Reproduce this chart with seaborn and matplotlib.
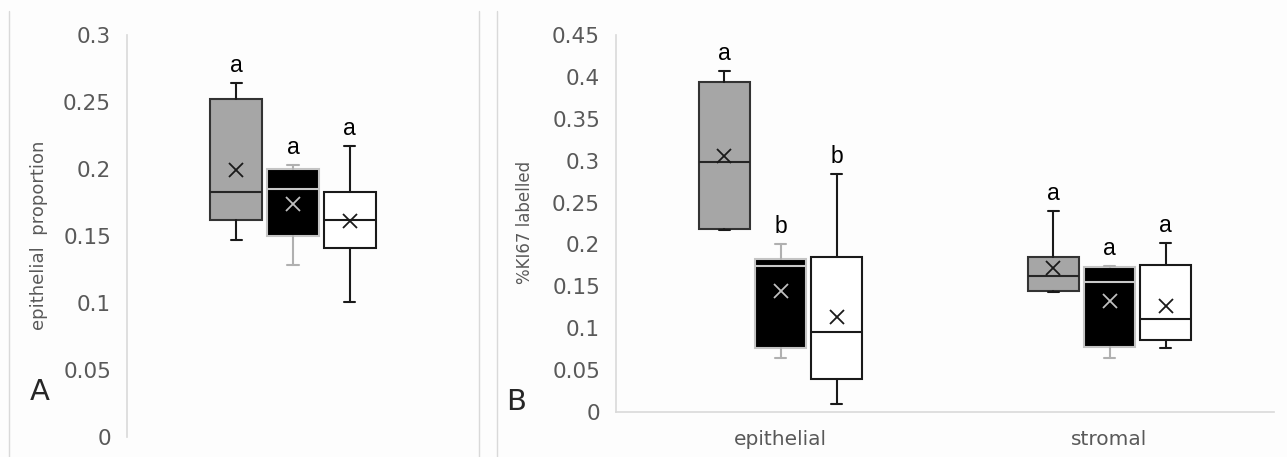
import numpy as np
import matplotlib
matplotlib.use("Agg")
import matplotlib.pyplot as plt
from matplotlib.lines import Line2D
from matplotlib.ticker import FuncFormatter
import seaborn as sns

# ---- data (five-number summaries + means) ----
groups = ["grey", "black", "white"]

# panel A: epithelial proportion, one category
a_whislo = [0.147, 0.128, 0.101]
a_q1 = [0.162, 0.150, 0.141]
a_med = [0.183, 0.185, 0.162]
a_q3 = [0.252, 0.200, 0.183]
a_whishi = [0.264, 0.203, 0.217]
a_mean = [0.199, 0.174, 0.161]
a_letters = ["a", "a", "a"]

# panel B: %KI67 labelled, two compartments
b_categories = ["epithelial", "stromal"]
b_whislo = [[0.217, 0.064, 0.0095], [0.1436, 0.065, 0.076]]
b_q1 = [[0.218, 0.076, 0.039], [0.145, 0.078, 0.086]]
b_med = [[0.298, 0.174, 0.095], [0.162, 0.1555, 0.111]]
b_q3 = [[0.3935, 0.183, 0.185], [0.185, 0.1735, 0.1755]]
b_whishi = [[0.407, 0.200, 0.284], [0.240, 0.1746, 0.202]]
b_mean = [[0.305, 0.144, 0.113], [0.1715, 0.1325, 0.1265]]
b_letters = [["a", "b", "b"], ["a", "a", "a"]]

# ---- styling ----
sns.set_style("white")
plt.rcParams['font.family'] = ['DejaVu Sans']

styles = {
    "grey": dict(face="#a6a6a6", edge="#333333", whisk="#1a1a1a", med="#262626", mean="#1a1a1a"),
    "black": dict(face="#000000", edge="#c4c4c4", whisk="#b0b0b0", med="#c8c8c8", mean="#c0c0c0"),
    "white": dict(face="#ffffff", edge="#1a1a1a", whisk="#1a1a1a", med="#1a1a1a", mean="#1a1a1a"),
}
STEP = 0.171
WIDTH = 0.155
CAP = 0.034
TICK_GREY = "#595959"
AXIS_GREY = "#d9d9d9"

W, H = 1287, 457
fig = plt.figure(figsize=(W / 100, H / 100), dpi=100)
fig.patch.set_facecolor("#fdfdfd")


def draw_group(ax, x0, whislo, q1, med, q3, whishi, mean, letters):
    for j, g in enumerate(groups):
        st = styles[g]
        pos = x0 + (j - 1) * STEP
        stats = [dict(whislo=whislo[j], q1=q1[j], med=med[j], q3=q3[j],
                      whishi=whishi[j], mean=mean[j], fliers=[])]
        ax.bxp(stats, positions=[pos], widths=WIDTH, capwidths=CAP,
               patch_artist=True, showmeans=True, manage_ticks=False,
               boxprops=dict(facecolor=st["face"], edgecolor=st["edge"], linewidth=1.5),
               whiskerprops=dict(color=st["whisk"], linewidth=1.5),
               capprops=dict(color=st["whisk"], linewidth=1.5),
               medianprops=dict(color=st["med"], linewidth=1.5),
               meanprops=dict(marker="x", markeredgecolor=st["mean"], markersize=9.5,
                              markeredgewidth=1.3, linestyle="none"))
        ax.annotate(letters[j], (pos, whishi[j]), xytext=(0, 8), textcoords="offset points",
                    ha="center", va="baseline", fontsize=16.5, color="black",
                    family="Liberation Sans")


def style_axis(ax, show_bottom):
    for side in ["top", "right"]:
        ax.spines[side].set_visible(False)
    ax.spines["left"].set_color(AXIS_GREY)
    ax.spines["left"].set_linewidth(1.2)
    ax.spines["bottom"].set_visible(show_bottom)
    ax.spines["bottom"].set_color(AXIS_GREY)
    ax.spines["bottom"].set_linewidth(1.2)
    ax.set_facecolor("none")
    ax.yaxis.set_major_formatter(FuncFormatter(lambda v, p: f"{round(v, 3):g}"))
    ax.tick_params(axis="y", length=0, labelsize=15.5, labelcolor=TICK_GREY, pad=11.5)
    ax.tick_params(axis="x", length=0, labelsize=14.5, labelcolor=TICK_GREY, pad=13)


# ---- panel A ----
axA = fig.add_axes([127 / W, (H - 437) / H, (459 - 127) / W, (437 - 35) / H])
draw_group(axA, 0, a_whislo, a_q1, a_med, a_q3, a_whishi, a_mean, a_letters)
axA.set_xlim(-0.5, 0.5)
axA.set_ylim(0, 0.3)
axA.set_yticks(np.linspace(0, 0.3, 7))
axA.set_xticks([])
style_axis(axA, show_bottom=False)

# ---- panel B ----
axB = fig.add_axes([616 / W, (H - 412) / H, (1274 - 616) / W, (412 - 35) / H])
for i, cat in enumerate(b_categories):
    draw_group(axB, i, b_whislo[i], b_q1[i], b_med[i], b_q3[i], b_whishi[i],
               b_mean[i], b_letters[i])
axB.set_xlim(-0.5, len(b_categories) - 0.5)
axB.set_ylim(0, 0.45)
axB.set_yticks(np.linspace(0, 0.45, 10))
axB.set_xticks(range(len(b_categories)))
axB.set_xticklabels(b_categories)
style_axis(axB, show_bottom=True)

# axis titles and panel letters
fig.text(39 / W, 1 - 235 / H, "epithelial  proportion", rotation=90, ha="center", va="center",
         fontsize=13, color=TICK_GREY)
fig.text(525 / W, 1 - 222 / H, "%KI67 labelled", rotation=90, ha="center", va="center",
         fontsize=12, color=TICK_GREY)
fig.text(40 / W, 1 - 392 / H, "A", ha="center", va="center", fontsize=21, color="#262626")
fig.text(516 / W, 1 - 402 / H, "B", ha="center", va="center", fontsize=21, color="#262626")

# chart-area borders
for xb in [9, 478.5, 497.5]:
    fig.add_artist(Line2D([xb / W, xb / W], [0, 1 - 11 / H], transform=fig.transFigure,
                          color=AXIS_GREY, linewidth=1))

fig.savefig("out.png", dpi=100)
